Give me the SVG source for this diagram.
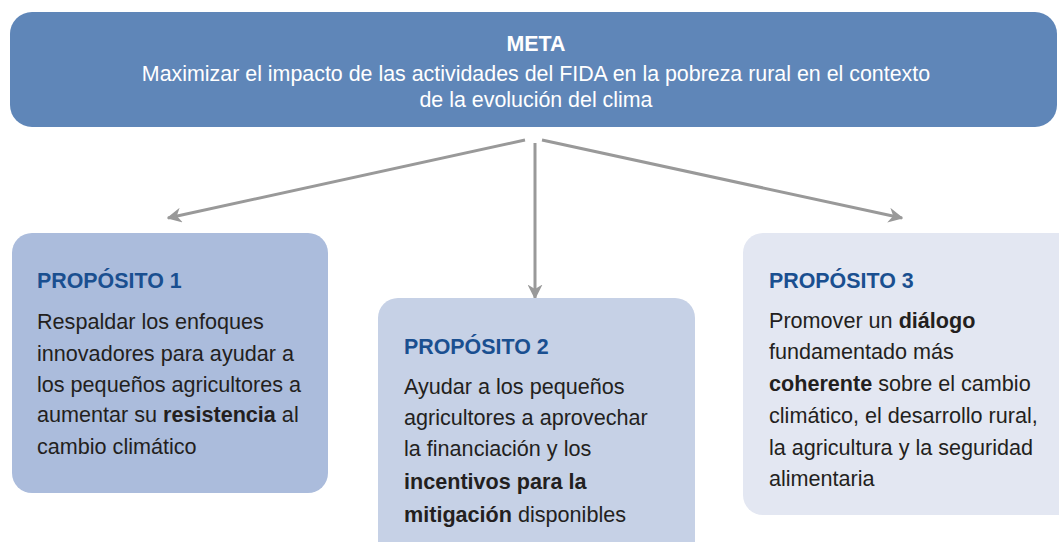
<svg xmlns="http://www.w3.org/2000/svg" width="1059" height="542" viewBox="0 0 1059 542">
<defs>
<marker id="ah" viewBox="0 0 10 10" refX="9" refY="5" markerWidth="5" markerHeight="5" orient="auto" markerUnits="strokeWidth">
<path d="M0,0 L10,5 L0,10 L3,5 z" fill="#999999"/>
</marker>
<style>
.t{font-family:"Liberation Sans",Arial,sans-serif;}
.meta{fill:#ffffff;font-size:21.4px;}
.ttl{fill:#1a4f90;font-size:21.4px;font-weight:bold;}
.body{fill:#231f20;font-size:21.6px;}
.b{font-weight:bold;}
.con{stroke:#999999;stroke-width:3;fill:none;marker-end:url(#ah);}
</style>
</defs>
<rect width="1059" height="542" fill="#ffffff"/>
<g id="connectors">
<line class="con" x1="525" y1="140" x2="168" y2="218"/>
<line class="con" x1="535" y1="143" x2="535" y2="298"/>
<line class="con" x1="542" y1="140" x2="902" y2="218"/>
</g>
<g id="meta">
<rect x="10" y="12" width="1047" height="115" rx="22" fill="#5f86b8"/>
<text class="t meta" x="536" y="51" text-anchor="middle" font-weight="bold">META</text>
<text class="t meta" x="536" y="81" text-anchor="middle">Maximizar el impacto de las actividades del FIDA en la pobreza rural en el contexto</text>
<text class="t meta" x="536" y="107" text-anchor="middle">de la evolución del clima</text>
</g>
<g id="proposito1">
<rect x="12" y="233" width="316" height="260" rx="20" fill="#abbcdc"/>
<text class="t ttl" x="37" y="288">PROPÓSITO 1</text>
<text class="t body" x="37" y="329">Respaldar los enfoques</text>
<text class="t body" x="37" y="361">innovadores para ayudar a</text>
<text class="t body" x="37" y="392">los pequeños agricultores a</text>
<text class="t body" x="37" y="422">aumentar su <tspan class="b">resistencia</tspan> al</text>
<text class="t body" x="37" y="454">cambio climático</text>
</g>
<g id="proposito2">
<rect x="378" y="298" width="317" height="270" rx="20" fill="#c6d1e6"/>
<text class="t ttl" x="404" y="354">PROPÓSITO 2</text>
<text class="t body" x="404" y="394">Ayudar a los pequeños</text>
<text class="t body" x="404" y="425">agricultores a aprovechar</text>
<text class="t body" x="404" y="456">la financiación y los</text>
<text class="t body" x="404" y="489"><tspan class="b">incentivos para la</tspan></text>
<text class="t body" x="404" y="522"><tspan class="b">mitigación</tspan> disponibles</text>
</g>
<g id="proposito3">
<rect x="743" y="233" width="340" height="282" rx="20" fill="#e3e7f2"/>
<text class="t ttl" x="769" y="288">PROPÓSITO 3</text>
<text class="t body" x="769" y="328">Promover un <tspan class="b">diálogo</tspan></text>
<text class="t body" x="769" y="359">fundamentado más</text>
<text class="t body" x="769" y="391"><tspan class="b">coherente</tspan> sobre el cambio</text>
<text class="t body" x="769" y="423">climático, el desarrollo rural,</text>
<text class="t body" x="769" y="455">la agricultura y la seguridad</text>
<text class="t body" x="769" y="486">alimentaria</text>
</g>
</svg>
